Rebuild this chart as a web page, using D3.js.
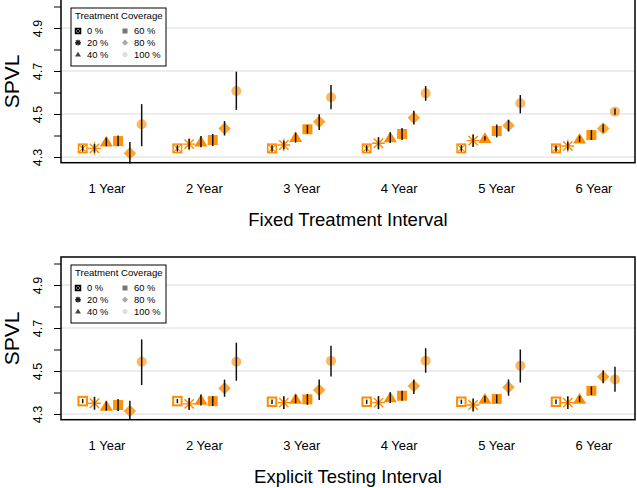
<!DOCTYPE html>
<html><head><meta charset="utf-8">
<script src="https://cdn.jsdelivr.net/npm/d3@7"></script>
<style>body{margin:0;background:#fff} svg{display:block;font-family:"Liberation Sans",Arial,Helvetica,sans-serif}</style>
</head><body><svg id="c" width="637" height="488"></svg>
<script>
// ---------------- data ----------------
const years = ["1 Year","2 Year","3 Year","4 Year","5 Year","6 Year"];
const coverage = ["0 %","20 %","40 %","60 %","80 %","100 %"];
const yTicks = [4.3,4.4,4.5,4.6,4.7,4.8,4.9,5.0];
const yLabelTicks = [4.3,4.5,4.7,4.9];
const panelTitles = ["Fixed Treatment Interval","Explicit Testing Interval"];
const legendTitle = "Treatment Coverage";

// Fixed Treatment Interval: rows = years, cols = coverage
const fixedMean = [
  [4.340,4.340,4.371,4.374,4.317,4.452],
  [4.340,4.360,4.371,4.379,4.433,4.607],
  [4.340,4.356,4.392,4.429,4.464,4.578],
  [4.340,4.364,4.390,4.407,4.483,4.596],
  [4.340,4.376,4.387,4.421,4.446,4.550],
  [4.340,4.351,4.384,4.402,4.433,4.511]
];
const fixedLo = [
  [4.325,4.320,4.350,4.350,4.270,4.350],
  [4.325,4.336,4.345,4.351,4.400,4.519],
  [4.325,4.336,4.367,4.409,4.426,4.522],
  [4.325,4.336,4.365,4.379,4.451,4.561],
  [4.325,4.347,4.377,4.391,4.419,4.503],
  [4.325,4.331,4.369,4.379,4.414,4.496]
];
const fixedHi = [
  [4.355,4.360,4.390,4.400,4.370,4.546],
  [4.355,4.384,4.398,4.407,4.467,4.697],
  [4.355,4.376,4.413,4.449,4.499,4.635],
  [4.355,4.392,4.415,4.435,4.515,4.630],
  [4.355,4.405,4.397,4.451,4.473,4.588],
  [4.355,4.371,4.399,4.425,4.452,4.526]
];
// Explicit Testing Interval
const testMean = [
  [4.360,4.350,4.337,4.342,4.314,4.543],
  [4.360,4.347,4.365,4.360,4.420,4.543],
  [4.357,4.353,4.370,4.368,4.412,4.547],
  [4.357,4.353,4.376,4.385,4.430,4.548],
  [4.357,4.342,4.370,4.370,4.424,4.525],
  [4.357,4.353,4.370,4.408,4.473,4.461]
];
const testLo = [
  [4.350,4.320,4.315,4.314,4.272,4.435],
  [4.350,4.320,4.339,4.337,4.380,4.455],
  [4.347,4.323,4.350,4.343,4.365,4.474],
  [4.347,4.323,4.351,4.362,4.393,4.492],
  [4.347,4.312,4.355,4.350,4.385,4.446],
  [4.347,4.323,4.355,4.388,4.443,4.404]
];
const testHi = [
  [4.370,4.380,4.359,4.370,4.362,4.647],
  [4.370,4.374,4.391,4.383,4.460,4.632],
  [4.367,4.383,4.390,4.393,4.461,4.617],
  [4.367,4.383,4.401,4.408,4.461,4.606],
  [4.367,4.372,4.385,4.390,4.461,4.600],
  [4.367,4.383,4.385,4.428,4.503,4.520]
];
const panels = [
  {title: panelTitles[0], mean: fixedMean, lo: fixedLo, hi: fixedHi, crossBox: true},
  {title: panelTitles[1], mean: testMean, lo: testLo, hi: testHi, crossBox: false}
];

// ---------------- layout ----------------
const svg = d3.select("#c");
const left = 61, right = 635, plotBottom = 162.7, panelStep = 257;
const y = d3.scaleLinear().domain([4.3, 4.9]).range([157, 28]);
const xPt = d3.scaleLinear().domain([1, 6]).range([82.7, 556]);
const xLab = d3.scaleLinear().domain([1, 6]).range([107, 594]);
const within = 0.1246;
const orange = "#ff8c00";
const markOpacity = [1, 1, 1, 0.95, 0.8, 0.62];
const legendGray = ["#000", "#222", "#444", "#777", "#aaa", "#ddd"];

function drawSymbol(g, j, s, color, opacity, crossBox) {
  const r = s / 2;
  if (j === 0) {
    g.append("rect").attr("x", -r).attr("y", -r).attr("width", s).attr("height", s)
      .attr("fill", "#fff").attr("stroke", color).attr("stroke-width", crossBox ? 1.5 : 2);
    if (crossBox) {
      g.append("path").attr("d", `M${-r},${-r}L${r},${r}M${-r},${r}L${r},${-r}`)
        .attr("stroke", color).attr("stroke-width", 1.2);
    }
  } else if (j === 1) {
    const a = r * 1.15, d = r * 0.85;
    g.append("path").attr("d", `M${-a},0L${a},0M0,${-a}L0,${a}M${-d},${-d}L${d},${d}M${-d},${d}L${d},${-d}`)
      .attr("stroke", color).attr("stroke-width", 1.4).attr("fill", "none");
  } else if (j === 2) {
    g.append("path").attr("d", `M0,${-r*1.1}L${r*1.2},${r*0.85}L${-r*1.2},${r*0.85}Z`)
      .attr("fill", color).attr("fill-opacity", opacity);
  } else if (j === 3) {
    g.append("rect").attr("x", -r).attr("y", -r).attr("width", s).attr("height", s)
      .attr("fill", color).attr("fill-opacity", opacity);
  } else if (j === 4) {
    const q = r * 1.25;
    g.append("path").attr("d", `M0,${-q}L${q},0L0,${q}L${-q},0Z`)
      .attr("fill", color).attr("fill-opacity", opacity);
  } else {
    g.append("circle").attr("r", r).attr("fill", color).attr("fill-opacity", opacity);
  }
}

panels.forEach((P, p) => {
  const g = svg.append("g").attr("transform", `translate(0,${p * panelStep})`);

  // grid
  g.selectAll("line.grid").data(yLabelTicks).join("line")
    .attr("x1", left).attr("x2", right)
    .attr("y1", d => y(d)).attr("y2", d => y(d))
    .attr("stroke", "#dcdcdc").attr("stroke-width", 1.2);

  // y axis
  const ax = g.append("g").attr("transform", `translate(${left},0)`)
    .call(d3.axisLeft(y).tickValues(yTicks).tickSize(7).tickSizeOuter(0)
      .tickFormat(d => yLabelTicks.some(v => Math.abs(v - d) < 1e-9) ? d3.format(".1f")(d) : ""));
  ax.select(".domain").remove();
  ax.selectAll(".tick line").attr("stroke", "#000").attr("stroke-width", 1);
  ax.selectAll(".tick text")
    .attr("x", 0).attr("y", -19).attr("dy", 0)
    .attr("text-anchor", "middle").attr("transform", "rotate(-90)")
    .attr("font-size", 12.5).attr("fill", "#000")
    .style("font-family", '"Liberation Sans",Arial,sans-serif');

  // marks
  P.mean.forEach((row, i) => {
    row.forEach((v, j) => {
      const cx = xPt(i + 1 + j * within), cy = y(v);
      const sg = g.append("g").attr("transform", `translate(${cx},${cy})`);
      const s = [8.5, 11, 11, 10, 10, 10][j];
      drawSymbol(sg, j, s, orange, markOpacity[j], P.crossBox);
    });
  });
  // error bars
  P.mean.forEach((row, i) => {
    row.forEach((v, j) => {
      const cx = xPt(i + 1 + j * within);
      g.append("line").attr("x1", cx).attr("x2", cx)
        .attr("y1", y(P.lo[i][j])).attr("y2", y(P.hi[i][j]))
        .attr("stroke", "#111").attr("stroke-width", 1.5);
    });
  });

  // box
  const top = p === 0 ? -1.5 : 0;
  g.append("rect").attr("x", left).attr("y", top)
    .attr("width", right - left).attr("height", plotBottom - top)
    .attr("fill", "none").attr("stroke", "#000").attr("stroke-width", 1.5);

  // x labels
  g.selectAll("text.xl").data(years).join("text")
    .attr("x", (d, i) => xLab(i + 1)).attr("y", 193)
    .attr("text-anchor", "middle").attr("font-size", 13).text(d => d);

  // title
  g.append("text").attr("x", (left + right) / 2).attr("y", 226)
    .attr("text-anchor", "middle").attr("font-size", 18.5).text(P.title);

  // y label
  g.append("text").attr("transform", `translate(19,${plotBottom / 2}) rotate(-90)`)
    .attr("text-anchor", "middle").attr("font-size", 21).text("SPVL");

  // legend
  const lg = g.append("g").attr("transform", "translate(71,8)");
  lg.append("rect").attr("width", 95).attr("height", 58)
    .attr("fill", "#fff").attr("stroke", "#000").attr("stroke-width", 1);
  lg.append("text").attr("x", 4).attr("y", 10.5).attr("font-size", 9.6).text(legendTitle);
  coverage.forEach((c, j) => {
    const col = Math.floor(j / 3), row = j % 3;
    const sy = 23 + row * 11.7;
    const sg = lg.append("g").attr("transform", `translate(${7 + col * 47},${sy})`);
    drawSymbol(sg, j, 5, legendGray[j], 1, true);
    lg.append("text").attr("x", 16 + col * 47).attr("y", sy + 3.2)
      .attr("font-size", 9.4).text(c);
  });
});
</script></body></html>
